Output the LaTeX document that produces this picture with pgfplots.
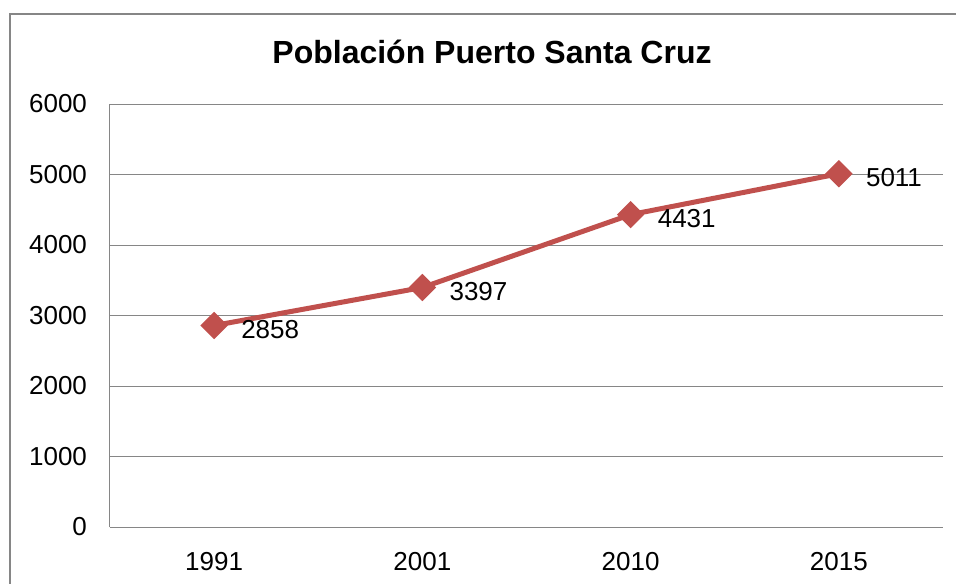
\documentclass[border=0pt]{standalone}
\usepackage{pgfplots}
\pgfplotsset{compat=1.18}
\usepackage{fontspec}
\setmainfont{Liberation Sans}
\definecolor{exred}{HTML}{C0504D}
\definecolor{gridgray}{HTML}{868686}
\begin{document}
\begin{tikzpicture}[x=1pt,y=1pt]
\useasboundingbox (0,0) rectangle (478,291.5);
\draw[gridgray, line width=0.9pt] (5,-20) -- (5,284.5) -- (500,284.5);
\node[font=\fontsize{16}{19}\selectfont\bfseries] at (246,265.5) {Población Puerto Santa Cruz};
\begin{axis}[
  at={(55pt,28pt)}, anchor=south west,
  scale only axis, width=416.5pt, height=211.5pt,
  xmin=-0.5, xmax=3.5, ymin=0, ymax=6000,
  xtick={0,1,2,3}, xticklabels={1991,2001,2010,2015},
  ytick={0,1000,...,6000},
  major tick length=0pt,
  ymajorgrids, grid style={gridgray, line width=0.5pt},
  axis x line*=bottom, axis y line*=left,
  axis line style={gridgray, line width=0.5pt, -},
  tick label style={font=\fontsize{13}{15}\selectfont},
  /pgf/number format/assume math mode=true,
  scaled y ticks=false,
  yticklabel style={/pgf/number format/1000 sep={}, xshift=-8pt},
  xticklabel style={yshift=-9pt},
  clip=false,
]
\addplot[exred, line width=2.5pt, mark=square*, mark size=3.6pt,
  mark options={rotate=45, solid},
  nodes near coords, point meta=explicit symbolic,
  every node near coord/.style={anchor=west, xshift=9pt, yshift=-2pt, black, font=\fontsize{13}{15}\selectfont}]
  coordinates {(0,2858)[2858] (1,3397)[3397] (2,4431)[4431] (3,5011)[5011]};
\end{axis}
\end{tikzpicture}
\end{document}
